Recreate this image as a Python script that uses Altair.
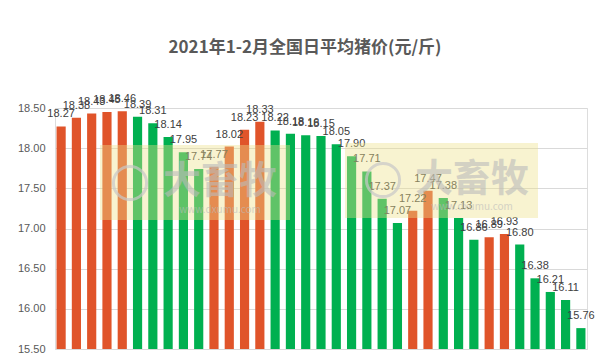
import altair as alt
import pandas as pd

days = list(range(1, 36))
prices = [18.27, 18.38, 18.43, 18.45, 18.46, 18.39, 18.31, 18.14, 17.95, 17.74,
          17.77, 18.02, 18.23, 18.33, 18.22, 18.18, 18.16, 18.15, 18.05, 17.90,
          17.71, 17.37, 17.07, 17.22, 17.47, 17.38, 17.13, 16.86, 16.89, 16.93,
          16.80, 16.38, 16.21, 16.11, 15.76]
trend = ["up"] + ["up" if prices[i] > prices[i - 1] else "down" for i in range(1, len(prices))]
y_ticks = [15.5, 16.0, 16.5, 17.0, 17.5, 18.0, 18.5]

df = pd.DataFrame({"day": days, "price": prices, "trend": trend})
df["label"] = df["price"].map(lambda v: f"{v:.2f}")
one = pd.DataFrame({"k": [0]})

W, H = 532, 241

x = alt.X("day:O", axis=None, scale=alt.Scale(paddingInner=0.4, paddingOuter=0.1))
y = alt.Y("price:Q", scale=alt.Scale(domain=[15.5, 18.5], zero=False, nice=False),
          axis=alt.Axis(values=y_ticks, format=".2f", title=None, domain=False, ticks=False,
                        labelPadding=10, labelFontSize=11, labelColor="#595959",
                        labelFont="Liberation Sans", gridColor="#D9D9D9", gridWidth=1))

bars = alt.Chart(df).mark_bar().encode(
    x=x, y=y, y2=alt.datum(15.5),
    color=alt.Color("trend:N", scale=alt.Scale(domain=["up", "down"], range=["#E0542A", "#00B050"]),
                    legend=None),
)

labels = alt.Chart(df).mark_text(dy=-9, fontSize=11, color="#404040", font="Liberation Sans",
                                 baseline="alphabetic").encode(x=x, y=alt.Y("price:Q"), text="label:N")

# watermark decoration
def wm_rect(x1, x2, y1, y2):
    return alt.Chart(one).mark_rect(color="#EEE08A", opacity=0.4).encode(
        x=alt.value(x1), x2=alt.value(x2), y=alt.value(y1), y2=alt.value(y2))

def wm_circle(cx, cy):
    return alt.Chart(one).mark_point(shape="circle", size=1100, filled=False, strokeWidth=3,
                                     color="#C8C8C8", opacity=0.7).encode(x=alt.value(cx), y=alt.value(cy))

def wm_text(t, cx, cy, size, bold):
    return alt.Chart(one).mark_text(text=t, fontSize=size, fontWeight="bold" if bold else "normal",
                                    font="Noto Sans CJK SC", color="#BBBBBB", opacity=0.6).encode(
        x=alt.value(cx), y=alt.value(cy))

chart = alt.layer(
    bars, labels,
    wm_rect(45, 235, 37, 112), wm_rect(290, 483, 35, 110),
    wm_circle(75, 75), wm_circle(328, 72),
    wm_text("大畜牧", 165, 74, 38, True), wm_text("大畜牧", 417, 72, 38, True),
    wm_text("www.dxumu.com", 165, 102, 10, False), wm_text("www.dxumu.com", 417, 99, 10, False),
).properties(
    width=W, height=H,
    title=alt.TitleParams("2021年1-2月全国日平均猪价(元/斤)", fontSize=17, fontWeight="bold",
                          font="Noto Sans CJK SC", color="#595959", offset=36, dx=-16, anchor="middle"),
    autosize=alt.AutoSizeParams(type="none"),
    padding={"left": 47, "top": 100, "right": 15, "bottom": 5},
).configure_view(stroke=None).configure(background="white")

chart.save("out.html", embed_options={"renderer": "svg", "actions": False})
